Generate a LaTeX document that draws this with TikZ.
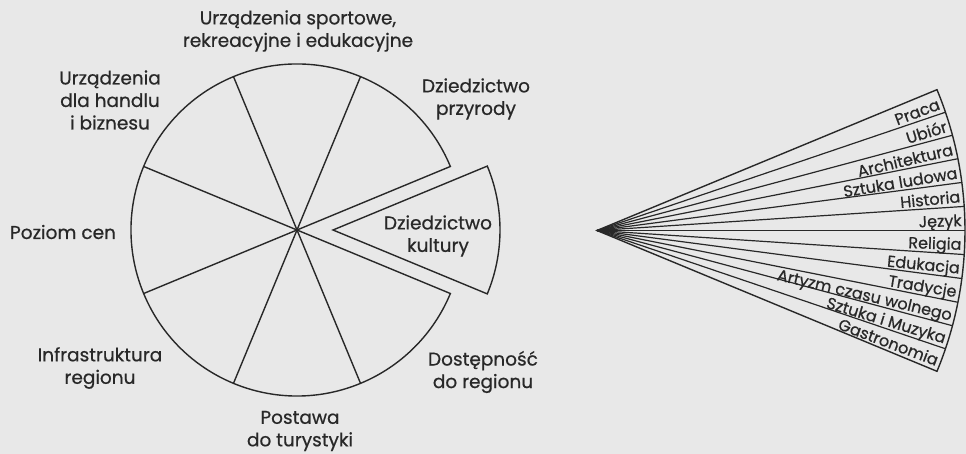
\documentclass[tikz,border=0pt]{standalone}
\usepackage{fontspec}
\usetikzlibrary{calc}
\setmainfont{Poppins}[FakeBold=0.6]
\definecolor{paper}{RGB}{232,232,232}
\definecolor{ink}{RGB}{40,40,40}
\begin{document}
\begin{tikzpicture}[x=1pt,y=1pt,
  lbl/.style={text=ink,align=center,font=\fontsize{18.5}{22.5}\selectfont,inner sep=0pt},
  fanlbl/.style={text=ink,font=\fontsize{16}{18}\selectfont,inner sep=0pt,anchor=base east},
  ln/.style={draw=ink,line width=1.4pt,line join=miter}]
\useasboundingbox[fill=paper] (0,0) rectangle (966,454);
% pie
\coordinate (C) at (297,224);
\coordinate (W) at (333,224);
\coordinate (F) at (597,223.5);
\draw[ln] (C) -- ++(22.5:166) arc[start angle=22.5,end angle=337.5,radius=166] -- cycle;
\foreach \a in {67.5,112.5,157.5,202.5,247.5,292.5}
  \draw[ln] (C) -- ++(\a:166);
% pulled-out wedge
\draw[ln] (W) -- ++(-22.5:167) arc[start angle=-22.5,end angle=22.5,radius=167] -- cycle;
% fan
\draw[ln] (F) -- ++(-22.5:368) arc[start angle=-22.5,end angle=22.5,radius=368] -- cycle;
\foreach \k in {1,...,11}
  \draw[draw=ink,line width=1.2pt] (F) -- ++({-22.5+3.75*\k}:368);
\foreach \t [count=\i from 0] in {Praca,Ubiór,Architektura,Sztuka ludowa,Historia,Język,Religia,Edukacja,Tradycje,Artyzm czasu wolnego,Sztuka i Muzyka,Gastronomia}
  \node[fanlbl,rotate={22.5-3.75*\i-1.875}] (f\i) at ($(F)+({22.5-3.75*\i-3.05}:365)$) {\t};
% labels
\node[lbl] (top) at (298,423) {Urządzenia sportowe,\\rekreacyjne i edukacyjne};
\node[lbl] (handel) at (110,354) {Urządzenia\\dla handlu\\i biznesu};
\node[lbl] (ceny) at (63,222) {Poziom cen};
\node[lbl] (infra) at (100,86) {Infrastruktura\\regionu};
\node[lbl] (postawa) at (300,23) {Postawa\\do turystyki};
\node[lbl] (dostep) at (483,82) {Dostępność\\do regionu};
\node[lbl] (przyroda) at (476,355) {Dziedzictwo\\przyrody};
\node[lbl] (kultura) at (438,218) {Dziedzictwo\\kultury};
\end{tikzpicture}
\end{document}
